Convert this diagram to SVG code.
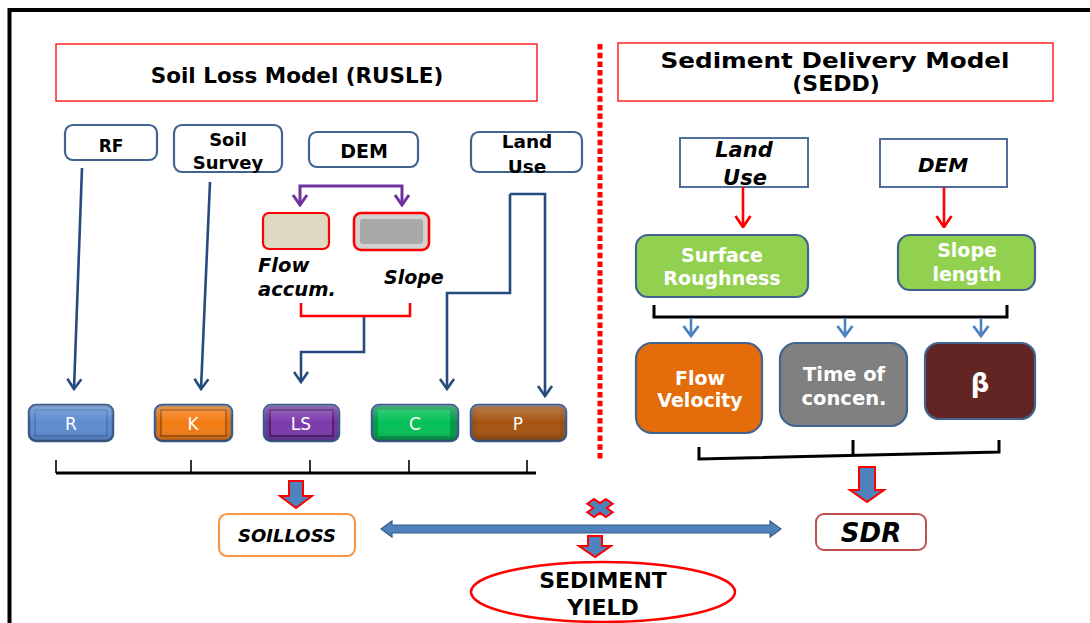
<svg xmlns="http://www.w3.org/2000/svg" width="1090" height="623" viewBox="0 0 1090 623">
<defs>
<style>
text{font-family:"DejaVu Sans","Liberation Sans",sans-serif;text-anchor:middle;fill:#000;}
.b{font-weight:bold;}
.bi{font-weight:bold;font-style:italic;}
.w{fill:#fff;}
.src{fill:#fff;stroke:#41648f;stroke-width:2.2;}
.ttl{fill:#fff;stroke:#ff0000;stroke-width:1.3;}
.dk{fill:none;stroke:#264b7e;stroke-width:2.6;}
.pu{fill:none;stroke:#7030a0;stroke-width:3;}
.rd{fill:none;stroke:#ff0000;stroke-width:2.6;}
.lb{fill:none;stroke:#4f81bd;stroke-width:2.6;}
.bk{fill:none;stroke:#000;stroke-width:3;}
.tk{fill:none;stroke:#000;stroke-width:1.6;}
.blk{fill:#4f81bd;stroke:#ff0000;stroke-width:2;stroke-linejoin:miter;}
.btn{stroke:#3b5a86;stroke-width:2.5;}
.bt{font-size:17px;fill:#fff;}
.gn{fill:#92d050;stroke:#41648f;stroke-width:2.2;}
</style>
<marker id="chB" viewBox="-2 -9 14 18" refX="10" refY="0" markerWidth="14" markerHeight="18" orient="auto" markerUnits="userSpaceOnUse"><path d="M0,-7 L10,0 L0,7" fill="none" stroke="#264b7e" stroke-width="2.6"/></marker>
<marker id="chP" viewBox="-2 -9 14 18" refX="10" refY="0" markerWidth="14" markerHeight="18" orient="auto" markerUnits="userSpaceOnUse"><path d="M0,-7 L10,0 L0,7" fill="none" stroke="#7030a0" stroke-width="3"/></marker>
<marker id="chR" viewBox="-2 -9 14 18" refX="10" refY="0" markerWidth="14" markerHeight="18" orient="auto" markerUnits="userSpaceOnUse"><path d="M0,-7.5 L11,0 L0,7.5" fill="none" stroke="#ff0000" stroke-width="2.8"/></marker>
<marker id="chL" viewBox="-2 -9 14 18" refX="10" refY="0" markerWidth="14" markerHeight="18" orient="auto" markerUnits="userSpaceOnUse"><path d="M0,-7.5 L10,0 L0,7.5" fill="none" stroke="#4f81bd" stroke-width="2.8"/></marker>
<linearGradient id="hl" x1="0" y1="0" x2="0" y2="1">
<stop offset="0" stop-color="#fff" stop-opacity="0.25"/>
<stop offset="0.5" stop-color="#fff" stop-opacity="0"/>
<stop offset="1" stop-color="#000" stop-opacity="0.15"/>
</linearGradient>
</defs>

<rect width="1090" height="623" fill="#fff"/>
<path d="M9.5,623 V10 H1090" fill="none" stroke="#000" stroke-width="4"/>
<line x1="600" y1="44" x2="600" y2="459" stroke="#ff0000" stroke-width="5" stroke-dasharray="5.5 3.2"/>

<g id="title-rusle"><rect class="ttl" x="56" y="44" width="481" height="57"/><text class="b" x="297" y="83" font-size="21.5">Soil Loss Model (RUSLE)</text></g>
<g id="title-sedd"><rect class="ttl" x="618" y="43" width="435" height="58"/><text class="b" x="835" y="68" font-size="22" textLength="349" lengthAdjust="spacingAndGlyphs">Sediment Delivery Model</text><text class="b" x="836" y="91" font-size="22">(SEDD)</text></g>

<g id="rf"><rect class="src" x="65" y="125" width="92" height="35" rx="8"/><text class="b" x="111" y="152" font-size="17">RF</text></g>
<g id="soil-survey"><rect class="src" x="174" y="125" width="108" height="47" rx="8"/><text class="b" x="228" y="146" font-size="18">Soil</text><text class="b" x="228" y="169" font-size="18">Survey</text></g>
<g id="dem-left"><rect class="src" x="309" y="132" width="109" height="35" rx="8"/><text class="b" x="364" y="158" font-size="19">DEM</text></g>
<g id="landuse-left"><rect class="src" x="471" y="132" width="111" height="40" rx="8"/><text class="b" x="527" y="148" font-size="18.5">Land</text><text class="b" x="527" y="173" font-size="18.5">Use</text></g>

<g id="flow-accum"><rect x="263" y="213" width="66" height="36" rx="6" fill="#ddd9c3" stroke="#ff0000" stroke-width="2.2"/><text class="bi" x="258" y="272" font-size="19.5" style="text-anchor:start">Flow</text><text class="bi" x="258" y="296" font-size="19.5" style="text-anchor:start">accum.</text></g>
<g id="slope"><rect x="354" y="213" width="75" height="37" rx="7" fill="#d2d2d2" stroke="#ff0000" stroke-width="2.6"/><rect x="360" y="219" width="63" height="25" rx="3" fill="#a9a9a9"/><text class="bi" x="384" y="284" font-size="19" style="text-anchor:start">Slope</text></g>

<g id="btn-r"><rect class="btn" x="29" y="405" width="84" height="36" rx="7" fill="#5a8ad0"/><rect x="35" y="410" width="72" height="26" fill="#5b8bd0" stroke="#3f6fb0" stroke-width="1.3"/><rect x="29" y="405" width="84" height="36" rx="7" fill="url(#hl)"/><text class="bt" x="71" y="430">R</text></g>
<g id="btn-k"><rect class="btn" x="155" y="405" width="77" height="36" rx="7" fill="#e0720f"/><rect x="161" y="410" width="65" height="26" fill="#f47b13" stroke="#8a4208" stroke-width="1.3"/><rect x="155" y="405" width="77" height="36" rx="7" fill="url(#hl)"/><text class="bt" x="193" y="430">K</text></g>
<g id="btn-ls"><rect class="btn" x="264" y="405" width="75" height="36" rx="7" fill="#7030a0"/><rect x="270" y="410" width="63" height="26" fill="#7b3aab" stroke="#3a1050" stroke-width="1.3"/><rect x="264" y="405" width="75" height="36" rx="7" fill="url(#hl)"/><text class="bt" x="301" y="430">LS</text></g>
<g id="btn-c"><rect class="btn" x="372" y="405" width="86" height="36" rx="7" fill="#009a48"/><rect x="378" y="410" width="72" height="26" fill="#03c057"/><rect x="372" y="405" width="86" height="36" rx="7" fill="url(#hl)"/><text class="bt" x="415" y="430">C</text></g>
<g id="btn-p"><rect class="btn" x="471" y="405" width="95" height="36" rx="7" fill="#9b4d12"/><rect x="477" y="410" width="83" height="26" fill="#a5540f"/><rect x="471" y="405" width="95" height="36" rx="7" fill="url(#hl)"/><text class="bt" x="518" y="430">P</text></g>

<g id="landuse-right"><rect x="680" y="138" width="128" height="49" fill="#fff" stroke="#4f6e9a" stroke-width="2"/><text class="bi" x="744" y="157" font-size="21">Land</text><text class="bi" x="745" y="185" font-size="21">Use</text></g>
<g id="dem-right"><rect x="880" y="139" width="127" height="48" fill="#fff" stroke="#4f6e9a" stroke-width="2"/><text class="bi" x="943" y="172" font-size="20">DEM</text></g>
<g id="surface-roughness"><rect class="gn" x="636" y="235" width="172" height="62" rx="12"/><text class="b w" x="722" y="262" font-size="19">Surface</text><text class="b w" x="722" y="285" font-size="19">Roughness</text></g>
<g id="slope-length"><rect class="gn" x="898" y="235" width="137" height="55" rx="12"/><text class="b w" x="967" y="257" font-size="19">Slope</text><text class="b w" x="967" y="281" font-size="19">length</text></g>
<g id="flow-velocity"><rect x="636" y="343" width="126" height="90" rx="16" fill="#e46c0a" stroke="#41648f" stroke-width="2.2"/><text class="b w" x="700" y="385" font-size="19">Flow</text><text class="b w" x="700" y="407" font-size="19">Velocity</text></g>
<g id="time-concen"><rect x="780" y="343" width="127" height="83" rx="16" fill="#808080" stroke="#41648f" stroke-width="2.2"/><text class="b w" x="844" y="381" font-size="19.5">Time of</text><text class="b w" x="844" y="405" font-size="19.5">concen.</text></g>
<g id="beta"><rect x="925" y="343" width="110" height="76" rx="14" fill="#632523" stroke="#41648f" stroke-width="2.2"/><text class="b w" x="980" y="392" font-size="26">β</text></g>

<g id="soilloss"><rect x="219" y="514" width="136" height="42" rx="8" fill="#fff" stroke="#f79646" stroke-width="2.2"/><text class="bi" x="287" y="542" font-size="18">SOILLOSS</text></g>
<g id="sdr"><rect x="816" y="514" width="110" height="36" rx="8" fill="#fff" stroke="#c0504d" stroke-width="2"/><text class="bi" x="871" y="542" font-size="26">SDR</text></g>
<g id="sediment-yield"><ellipse cx="603" cy="592" rx="132" ry="30" fill="#fff" stroke="#ff0000" stroke-width="2.5"/><text class="b" x="603" y="588" font-size="22">SEDIMENT</text><text class="b" x="603" y="615" font-size="22">YIELD</text></g>

<g id="connectors">
<path class="dk" d="M82,168 L74,389" marker-end="url(#chB)"/>
<path class="dk" d="M210,182 L201,389" marker-end="url(#chB)"/>
<path class="dk" d="M364,317 V352 H301 V382" marker-end="url(#chB)"/>
<path class="dk" d="M510,194 H545 V396" marker-end="url(#chB)"/>
<path class="dk" d="M510,194 V293 H447 V389" marker-end="url(#chB)"/>
<path class="pu" d="M351,186 H300 V205" marker-end="url(#chP)"/>
<path class="pu" d="M351,186 H402 V205" marker-end="url(#chP)"/>
<path class="rd" d="M301,303 V316 H410 V303" stroke-width="3.5"/>
<path class="rd" d="M743,187 V226" marker-end="url(#chR)"/>
<path class="rd" d="M944,187 V226" marker-end="url(#chR)"/>
<path class="bk" d="M654,305 V317 H1007 V305"/>
<path class="lb" d="M691,318 V336" marker-end="url(#chL)"/>
<path class="lb" d="M845,318 V336" marker-end="url(#chL)"/>
<path class="lb" d="M981,318 V336" marker-end="url(#chL)"/>
<path class="bk" d="M699,447 V459 L999,452 V440"/>
<path class="bk" d="M853,440 V455"/>
<path class="bk" d="M56,473 H536" stroke-width="3.3"/>
<path class="tk" d="M56,460 V473 M191,460 V473 M310,460 V473 M409,460 V473 M527,460 V473"/>
<path class="blk" d="M289,481 H303 V496 H312 L296,508 L280,496 H289 Z"/>
<path class="blk" d="M859,467 H875 V490 H884 L867,502 L850,490 H859 Z"/>
<path class="blk" d="M588,536 H602 V546 H611 L595,557 L579,546 H588 Z"/>
<path d="M381,529 L392,521 V525 H770 V521 L781,529 L770,537 V533 H392 V537 Z" fill="#4f81bd" stroke="#385d8a" stroke-width="1.2"/>
<path class="blk" stroke-width="1.8" transform="translate(600,508) scale(1.2,0.85) rotate(45)" d="M-4,-11 H4 V-4 H11 V4 H4 V11 H-4 V4 H-11 V-4 H-4 Z"/>
</g>
</svg>
